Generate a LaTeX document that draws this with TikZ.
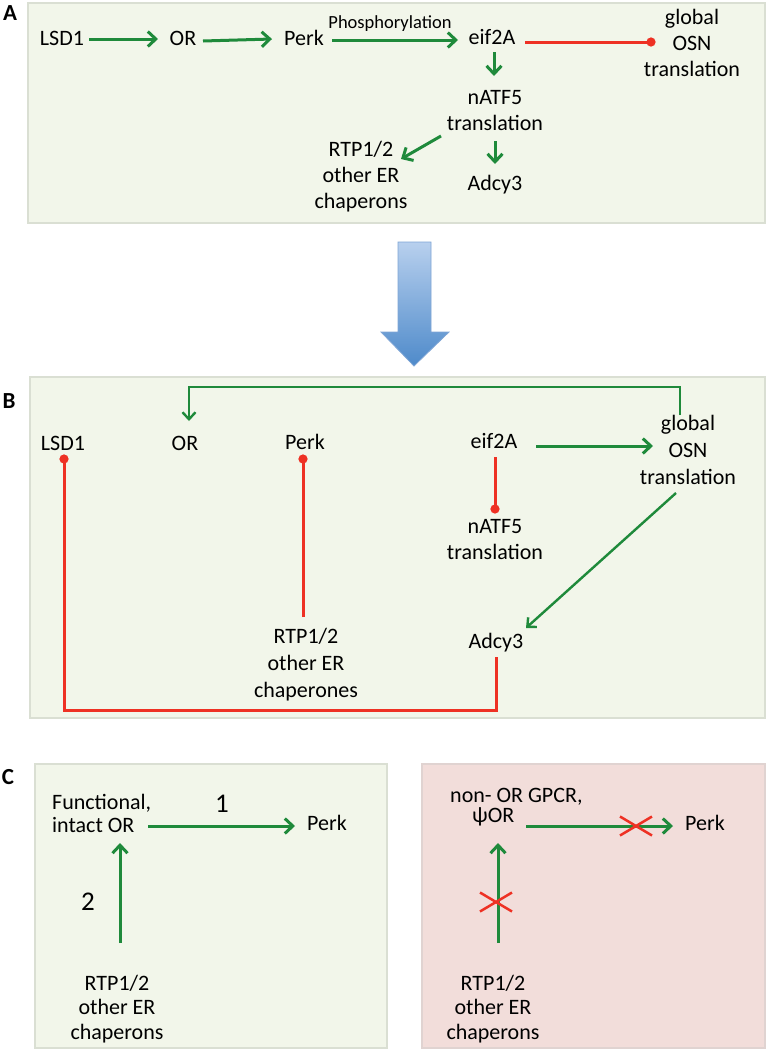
\documentclass[tikz,border=0pt]{standalone}
\usepackage{fontspec}
\setmainfont{Carlito}
\usetikzlibrary{arrows.meta}
\definecolor{grn}{HTML}{1F8A3B}
\definecolor{rd}{HTML}{EE3124}
\definecolor{boxg}{HTML}{F2F6EA}
\definecolor{boxgb}{HTML}{DADFD3}
\definecolor{boxp}{HTML}{F2DDDA}
\definecolor{boxpb}{HTML}{E0D3D1}
\definecolor{bltop}{HTML}{B8D0EE}
\definecolor{blbot}{HTML}{4E8ACA}
\definecolor{blbrd}{HTML}{7FA5D5}
\begin{document}
\begin{tikzpicture}[x=1pt,y=-1pt,
  lbl/.style={font=\fontsize{22}{26}\selectfont, inner sep=0pt, align=center},
  panellbl/.style={font=\fontsize{23}{26}\selectfont\bfseries, inner sep=0pt},
  num/.style={font=\fontsize{27}{30}\selectfont, inner sep=0pt},
  act/.style={draw=grn, line width=3pt, -{Straight Barb[length=8pt,width=15pt]}},
  actthin/.style={draw=grn, line width=2.4pt, -{Straight Barb[length=7pt,width=13pt]}},
  inh/.style={draw=rd, line width=3pt, -{Circle[length=9pt]}},
  cross/.style={draw=rd, line width=2.5pt},
  gbox/.style={fill=boxg, draw=boxgb, line width=1.2pt},
  pbox/.style={fill=boxp, draw=boxpb, line width=1.2pt}]
\useasboundingbox (0,0) rectangle (767,1050);
\fill[white] (0,0) rectangle (767,1050);

% ---------------- Panel A ----------------
\draw[gbox] (28,3) rectangle (765,223);
\node[panellbl] (labA) at (10,13) {A};
\node[lbl] (lsdA) at (62,38) {LSD1};
\node[lbl] (orA) at (183,38) {OR};
\node[lbl] (perkA) at (304,38) {Perk};
\node[lbl, font=\fontsize{18.5}{20}\selectfont] (phos) at (390,24) {Phosphorylation};
\node[lbl] (eifA) at (492,37) {eif2A};
\node[lbl] (globA) at (692,43) {global\\OSN\\translation};
\node[lbl] (natfA) at (495,111) {nATF5\\translation};
\node[lbl] (adcyA) at (495,185) {Adcy3};
\node[lbl] (rtpA) at (361,177) {RTP1/2\\other ER\\chaperons};

\draw[act] ([shift={(27,1)}]lsdA.center) -- ([shift={(-25,1)}]orA.center);
\draw[act] ([shift={(20,3)}]orA.center) -- ([shift={(-32,1)}]perkA.center);
\draw[act] ([shift={(28,2)}]perkA.center) -- ([shift={(-34,3)}]eifA.center);
\draw[inh] ([shift={(33,5)}]eifA.center) -- ([shift={(-36.5,-1)}]globA.center);
\draw[act] ([shift={(2,15)}]eifA.center) -- ([shift={(-1,-35)}]natfA.center);
\draw[act] ([shift={(0,30)}]natfA.center) -- ([shift={(0,-21)}]adcyA.center);
\draw[act] ([shift={(-54,25)}]natfA.center) -- ([shift={(40,-18)}]rtpA.center);

% ---------------- big arrow ----------------
\shade[top color=bltop, bottom color=blbot, draw=blbrd, line width=0.8pt]
  (398,242) -- (431,242) -- (431,332) -- (449,332) -- (414,366) -- (381,332) -- (398,332) -- cycle;

% ---------------- Panel B ----------------
\draw[gbox] (30,377) rectangle (765,718);
\node[panellbl] (labB) at (9,401) {B};
\node[lbl] (lsdB) at (63,443) {LSD1};
\node[lbl] (orB) at (185,443) {OR};
\node[lbl] (perkB) at (305,442) {Perk};
\node[lbl] (eifB) at (494,441) {eif2A};
\node[lbl, font=\fontsize{22}{27}\selectfont] (globB) at (688,450) {global\\OSN\\translation};
\node[lbl] (natfB) at (495,540) {nATF5\\translation};
\node[lbl] (adcyB) at (496,643) {Adcy3};
\node[lbl, font=\fontsize{22}{27}\selectfont] (rtpB) at (306,665) {RTP1/2\\other ER\\chaperones};

\draw[actthin] ([shift={(-8,-35)}]globB.center) -- ++(0,-28) -| ([shift={(4,-22)}]orB.center);
\draw[act] ([shift={(42,5)}]eifB.center) -- ([shift={(-35,-4)}]globB.center);
\draw[inh] ([shift={(1,16)}]eifB.center) -- ([shift={(0,-26.5)}]natfB.center);
\draw[actthin] ([shift={(-12,43)}]globB.center) -- ([shift={(30,-15)}]adcyB.center);
\draw[inh] ([shift={(-3,-48)}]rtpB.center) -- ([shift={(-2,12.5)}]perkB.center);
\draw[inh] ([shift={(0,14)}]adcyB.center) -- ++(0,53) -| ([shift={(1,11.5)}]lsdB.center);

% ---------------- Panel C ----------------
\node[panellbl] (labC) at (8,777) {C};
\draw[gbox] (35,764) rectangle (387,1048);
\draw[pbox] (422,764) rectangle (765,1048);

\node[lbl, align=left, anchor=west, font=\fontsize{22}{23}\selectfont] (funcC) at (52,813) {Functional,\\intact OR};
\node[num] (one) at (222,804) {1};
\node[lbl] (perkC) at (327,823) {Perk};
\node[num] (two) at (88,902) {2};
\node[lbl, font=\fontsize{22}{24.5}\selectfont] (rtpC) at (117,1009) {RTP1/2\\other ER\\chaperons};
\draw[act] ([shift={(96,13)}]funcC.west) -- ([shift={(-32,3)}]perkC.center);
\draw[act] ([shift={(3,-66)}]rtpC.center) -- ([shift={(68,30)}]funcC.west);

\node[lbl, align=left, anchor=west, font=\fontsize{22}{20}\selectfont] (nonC) at (450,807) {non- OR GPCR,\\\hspace*{22pt}ψOR};
\node[lbl] (perkR) at (705,823) {Perk};
\node[lbl, font=\fontsize{22}{24.5}\selectfont] (rtpR) at (493,1009) {RTP1/2\\other ER\\chaperons};
\draw[act] ([shift={(76,19)}]nonC.west) -- ([shift={(-32,3)}]perkR.center);
\draw[act] ([shift={(5,-66)}]rtpR.center) -- ([shift={(48,36)}]nonC.west);
\coordinate (xh) at (636,826);
\coordinate (xv) at (496,902);
\draw[cross] ([shift={(-16,-9.5)}]xh) -- ([shift={(16,9.5)}]xh);
\draw[cross] ([shift={(-16,9.5)}]xh) -- ([shift={(16,-9.5)}]xh);
\draw[cross] ([shift={(-16,-9.5)}]xv) -- ([shift={(16,9.5)}]xv);
\draw[cross] ([shift={(-16,9.5)}]xv) -- ([shift={(16,-9.5)}]xv);
\end{tikzpicture}
\end{document}
